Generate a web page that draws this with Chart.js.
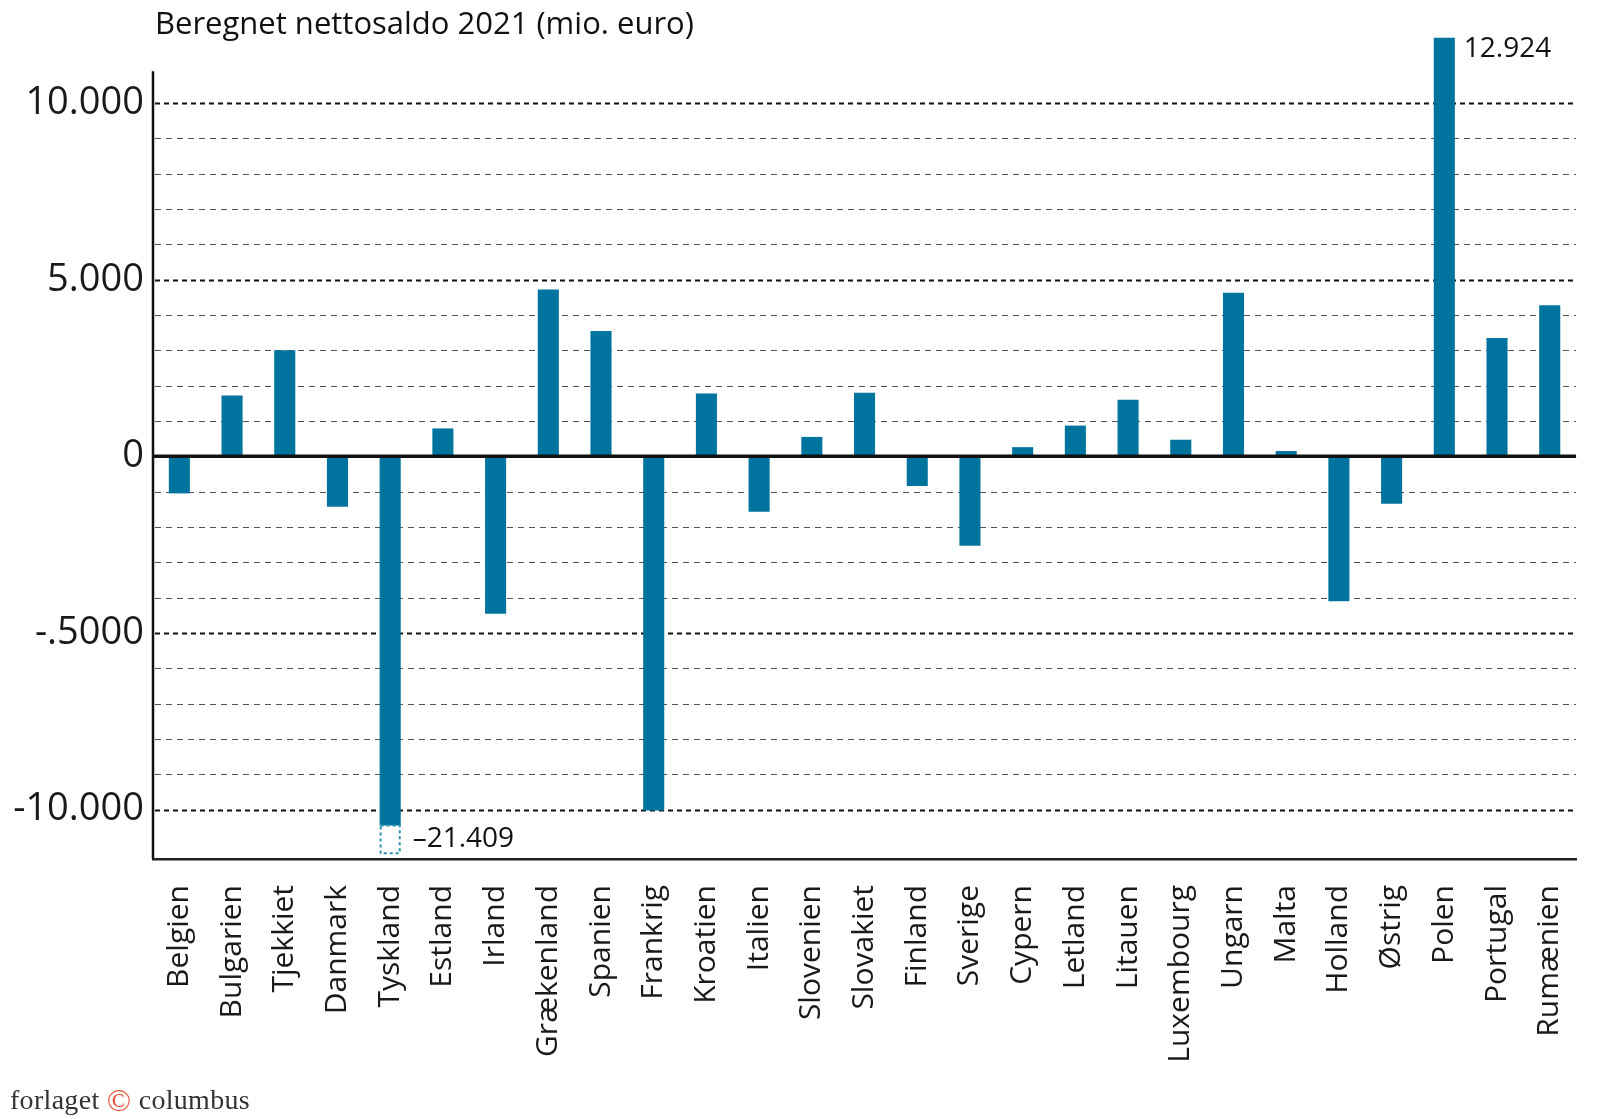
<!DOCTYPE html>
<html lang="da">
<head>
<meta charset="utf-8">
<title>Beregnet nettosaldo 2021</title>
<script src="https://cdn.jsdelivr.net/npm/chart.js@4.4.0/dist/chart.umd.min.js"></script>
<style>
  html, body { margin: 0; padding: 0; background: #fff; }
  #wrap { position: relative; width: 1612px; height: 1119px; }
  #footer {
    position: absolute; left: 10px; top: 1082px;
    font-family: "Liberation Serif", "DejaVu Serif", serif;
    font-size: 28px; color: #333; letter-spacing: 0.3px;
  }
  #footer .c { color: #e8553a; font-size: 32px; vertical-align: -2px; }
</style>
</head>
<body>
<div id="wrap">
  <canvas id="netto-chart" width="1612" height="1119"></canvas>
  <div id="footer">forlaget <span class="c">©</span> columbus</div>
</div>
<script>
// Lande og nettosaldo (som tegnet; Tyskland og Polen er afkortet)
const countries = [
  'Belgien', 'Bulgarien', 'Tjekkiet', 'Danmark', 'Tyskland', 'Estland', 'Irland',
  'Grækenland', 'Spanien', 'Frankrig', 'Kroatien', 'Italien', 'Slovenien', 'Slovakiet',
  'Finland', 'Sverige', 'Cypern', 'Letland', 'Litauen', 'Luxembourg', 'Ungarn',
  'Malta', 'Holland', 'Østrig', 'Polen', 'Portugal', 'Rumænien'
];
const values = [
  -1050, 1720, 3000, -1430, -10450, 790, -4460,
  4720, 3550, -10030, 1780, -1570, 550, 1800,
  -840, -2530, 260, 870, 1600, 470, 4630,
  150, -4100, -1340, 11850, 3350, 4280
];
// Faktiske værdier skrevet ved de afkortede søjler
const cutLabels = [
  { country: 'Polen', text: '12.924' },
  { country: 'Tyskland', text: '\u201321.409' }
];
// Stiplet kasse under Tysklands søjle (brud)
const breakBox = { country: 'Tyskland', from: -10450, to: -11240 };

// Hjælpelinjer hver 1000, tal kun ved hver 5000
const gridValues = [10000, 9000, 8000, 7000, 6000, 5000, 4000, 3000, 2000, 1000, 0,
  -1000, -2000, -3000, -4000, -5000, -6000, -7000, -8000, -9000, -10000];
const tickValues = [10000, 5000, 0, -5000, -10000];
const tickLabels = ['10.000', '5.000', '0', '-.5000', '-10.000'];

const barColor = '#00749e';
const fontMain = '"Open Sans", "Noto Sans", sans-serif';

const decorPlugin = {
  id: 'decor',
  beforeDatasetsDraw(chart) {
    const { ctx, chartArea: a, scales: { y } } = chart;
    ctx.save();
    y.ticks.forEach(t => {
      const v = t.value;
      if (v === 0) return;
      const py = Math.round(y.getPixelForValue(v)) + 0.5;
      const major = v % 5000 === 0;
      ctx.beginPath();
      ctx.setLineDash(major ? [5, 4] : [6, 5]);
      ctx.lineWidth = major ? 2 : 1.2;
      ctx.strokeStyle = major ? '#111' : '#555';
      ctx.moveTo(a.left + 2, py);
      ctx.lineTo(a.right, py);
      ctx.stroke();
    });
    ctx.restore();
  },
  afterDatasetsDraw(chart) {
    const { ctx, chartArea: a, scales: { y } } = chart;
    const meta = chart.getDatasetMeta(0);
    ctx.save();
    // nul-linje
    ctx.setLineDash([]);
    ctx.strokeStyle = '#111';
    ctx.lineWidth = 3.5;
    ctx.beginPath();
    ctx.moveTo(a.left, y.getPixelForValue(0));
    ctx.lineTo(a.right, y.getPixelForValue(0));
    ctx.stroke();
    // venstre akse
    ctx.lineWidth = 2.5;
    ctx.beginPath();
    ctx.moveTo(a.left, y.getPixelForValue(10900));
    ctx.lineTo(a.left, a.bottom);
    ctx.stroke();
    // brud-kasse
    const bar = meta.data[countries.indexOf(breakBox.country)];
    const y1 = y.getPixelForValue(breakBox.from);
    const y2 = y.getPixelForValue(breakBox.to);
    ctx.setLineDash([3, 3]);
    ctx.strokeStyle = '#2a8fae';
    ctx.lineWidth = 2;
    ctx.strokeRect(bar.x - bar.width / 2 + 1, y1, bar.width - 2, y2 - y1);
    // tal ved afkortede søjler
    ctx.setLineDash([]);
    ctx.fillStyle = '#111';
    ctx.font = '28px ' + fontMain;
    ctx.textAlign = 'left';
    ctx.textBaseline = 'middle';
    cutLabels.forEach(c => {
      const i = countries.indexOf(c.country);
      const el = meta.data[i];
      const up = values[i] > 0;
      ctx.fillText(c.text, el.x + el.width / 2 + (up ? 9 : 12), el.y + (up ? 11 : 14));
    });
    // titel
    ctx.font = '31px ' + fontMain;
    ctx.textBaseline = 'middle';
    ctx.fillText('Beregnet nettosaldo 2021 (mio. euro)', a.left + 2, 25);
    ctx.restore();
  }
};

const ctxNetto = document.getElementById('netto-chart').getContext('2d');
new Chart(ctxNetto, {
  type: 'bar',
  data: {
    labels: countries,
    datasets: [{
      data: values,
      backgroundColor: barColor,
      borderWidth: 0,
      categoryPercentage: 1,
      barPercentage: 0.4
    }]
  },
  options: {
    responsive: false,
    devicePixelRatio: 1,
    animation: false,
    layout: { padding: { top: 36, right: 15, left: 0, bottom: 0 } },
    plugins: { legend: { display: false }, tooltip: { enabled: false } },
    scales: {
      x: {
        grid: { display: false, drawTicks: false },
        border: { display: true, color: '#222', width: 2.5 },
        ticks: {
          color: '#1a1a1a',
          font: { family: fontMain, size: 30 },
          minRotation: 90,
          maxRotation: 90,
          autoSkip: false,
          padding: 26
        },
        afterFit(scale) { scale.height = 260; }
      },
      y: {
        min: -11400,
        max: 11900,
        grid: { display: false, drawTicks: false },
        border: { display: false },
        afterBuildTicks(scale) {
          scale.ticks = gridValues.map(v => ({ value: v }));
        },
        ticks: {
          autoSkip: false,
          color: '#1a1a1a',
          font: { family: fontMain, size: 38 },
          padding: 9,
          callback(v) {
            const i = tickValues.indexOf(v);
            return i >= 0 ? tickLabels[i] : '';
          }
        },
        afterFit(scale) { scale.width = 153; }
      }
    }
  },
  plugins: [decorPlugin]
});
</script>
</body>
</html>
